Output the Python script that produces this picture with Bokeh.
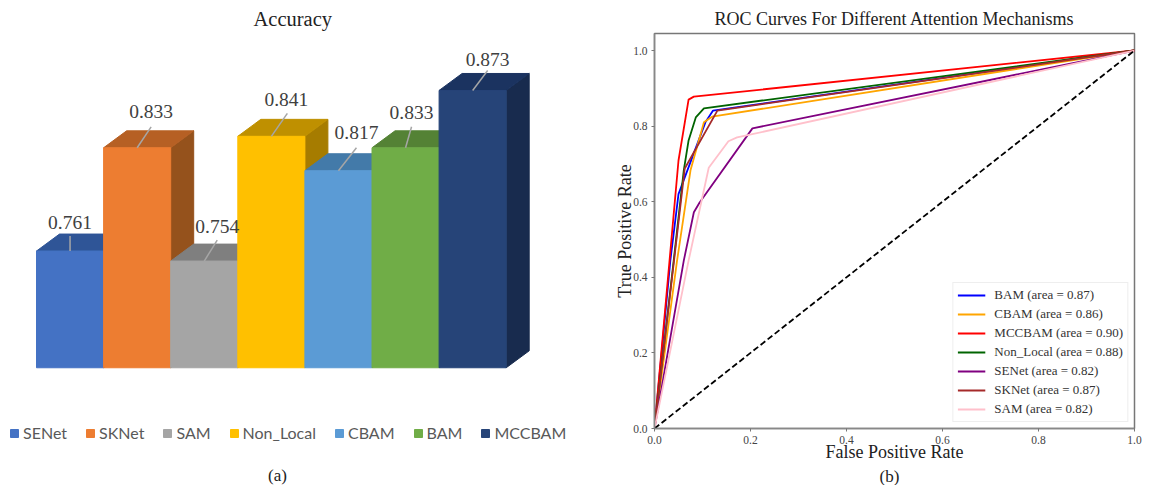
from bokeh.plotting import figure
from bokeh.layouts import row, column
from bokeh.embed import file_html
from bokeh.resources import INLINE
from bokeh.models import Range1d, Legend, LegendItem, Label, FixedTicker, NumeralTickFormatter, Title
from bokeh.core.properties import value

# ---------- data ----------
models = ["SENet", "SKNet", "SAM", "Non_Local", "CBAM", "BAM", "MCCBAM"]
accuracy = [0.761, 0.833, 0.754, 0.841, 0.817, 0.833, 0.873]

bam_x = [0, 0.033, 0.05, 0.106, 0.122, 1]
bam_y = [0, 0.444, 0.62, 0.81, 0.841, 1]
cbam_x = [0, 0.047, 0.075, 0.103, 0.12, 1]
cbam_y = [0, 0.444, 0.683, 0.81, 0.825, 1]
mcc_x = [0, 0.05, 0.071, 0.082, 1]
mcc_y = [0, 0.709, 0.87, 0.878, 1]
nl_x = [0, 0.04, 0.061, 0.071, 0.086, 0.103, 1]
nl_y = [0, 0.444, 0.683, 0.762, 0.823, 0.847, 1]
se_x = [0, 0.061, 0.082, 0.094, 0.204, 1]
se_y = [0, 0.444, 0.572, 0.598, 0.794, 1]
sk_x = [0, 0.063, 0.131, 1]
sk_y = [0, 0.688, 0.841, 1]
sam_x = [0, 0.071, 0.113, 0.154, 0.172, 1]
sam_y = [0, 0.444, 0.69, 0.76, 0.77, 1]
roc_names = ["BAM (area = 0.87)", "CBAM (area = 0.86)", "MCCBAM (area = 0.90)",
             "Non_Local (area = 0.88)", "SENet (area = 0.82)", "SKNet (area = 0.87)",
             "SAM (area = 0.82)"]

# ---------- styles ----------
front = ["#4472c4", "#ed7d31", "#a5a5a5", "#ffc000", "#5b9bd5", "#70ad47", "#264478"]
top = ["#2f5597", "#b66024", "#7f7f7f", "#bf9000", "#437aa9", "#548235", "#1b3360"]
side = ["#294a86", "#95521c", "#6e6e6e", "#a67c00", "#3a6a94", "#4a7230", "#182b4e"]
roc_colors = ["#0000ff", "#ffa500", "#ff0000", "#006400", "#800080", "#a52a2a", "#ffc0cb"]
SERIF = "Liberation Serif"
TXT = "#404040"

# left panel geometry: bar slot in px, px per accuracy unit
SLOT = 67.1
PX_PER_UNIT = 1437.0
W1, H1 = 598, 485
FRAME_TOP = 33
LEFT_PX = 36.0      # first bar's left edge from figure edge
V_AT_TOP = 0.761 + (250 - FRAME_TOP) / PX_PER_UNIT
V_AT_BOT = 0.761 - (H1 - 250) / PX_PER_UNIT
BASE = 0.761 - (367 - 250) / PX_PER_UNIT
DX = 23 / SLOT
DY = 17 / PX_PER_UNIT

p1 = figure(width=W1, height=H1, output_backend="svg", toolbar_location=None,
            x_range=Range1d(-LEFT_PX / SLOT, (W1 - LEFT_PX) / SLOT),
            y_range=Range1d(V_AT_BOT, V_AT_TOP),
            min_border_left=0, min_border_right=0, min_border_bottom=0, min_border_top=FRAME_TOP,
            title="Accuracy")
p1.title.text_font = SERIF
p1.title.text_font_size = "20.5px"
p1.title.text_font_style = "normal"
p1.title.text_color = "#222222"
p1.title.align = "left"
p1.title.offset = 253
p1.axis.visible = False
p1.grid.visible = False
p1.outline_line_color = None

# leader end offsets and label offsets from each front-top centre, px
lead_dx = [0, 14, 13, 16, 18, 6, 15]
lead_dy = [15, 21, 21, 23, 23, 21, 20]
lab_dx = [0, 14, 13, 15, 18, 6, 15]
lab_dy = [29, 36, 35, 37, 38, 35, 31]

items = []
for i, (m, v) in enumerate(zip(models, accuracy)):
    l, r = i, i + 1
    p1.patch([r, r + DX, r + DX, r], [BASE, BASE + DY, v + DY, v], fill_color=side[i], line_color=side[i])
    p1.patch([l, l + DX, r + DX, r], [v, v + DY, v + DY, v], fill_color=top[i], line_color=top[i])
    q = p1.quad(left=[l], right=[r], bottom=[BASE], top=[v], fill_color=front[i], line_color=front[i])
    items.append(LegendItem(label=m, renderers=[q]))

for i, v in enumerate(accuracy):
    c = i + 0.5
    p1.line([c, c + lead_dx[i] / SLOT], [v, v + lead_dy[i] / PX_PER_UNIT], line_color="#a6a6a6", line_width=1.5)
    p1.text([c + lab_dx[i] / SLOT], [v + lab_dy[i] / PX_PER_UNIT], text=[f"{v:.3f}"],
            text_font=value(SERIF), text_font_size="19.5px", text_color=TXT,
            text_align="center", text_baseline="middle")

leg1 = Legend(items=items, orientation="horizontal", location=(9, 43),
              glyph_width=10, glyph_height=10, spacing=18, label_standoff=4,
              label_text_font="Lato", label_text_font_size="16px", label_text_color="#595959",
              background_fill_alpha=0, border_line_color=None,
              margin=0, padding=0, label_height=14)
p1.add_layout(leg1)

p1.add_layout(Label(x=(277 - LEFT_PX) / SLOT, y=0.761 - (475 - 250) / PX_PER_UNIT, text="(a)",
                    text_font=SERIF, text_font_size="17px", text_color="#222222",
                    text_align="center", text_baseline="middle"))

# ---------- right panel ----------
p2 = figure(width=554, height=485, output_backend="svg", toolbar_location=None,
            x_range=Range1d(0, 1), y_range=Range1d(0, 1.045),
            min_border_left=56, min_border_right=18, min_border_bottom=57, min_border_top=FRAME_TOP,
            title="ROC Curves For Different Attention Mechanisms")
p2.title.text_font = SERIF
p2.title.text_font_size = "18px"
p2.title.text_font_style = "normal"
p2.title.text_color = "#222222"
p2.title.align = "center"
p2.grid.visible = False
p2.outline_line_color = "#777777"
p2.outline_line_width = 1.5
for ax, lab, st in ((p2.xaxis, "False Positive Rate", -5), (p2.yaxis, "True Positive Rate", -5)):
    ax.axis_label = lab
    ax.axis_label_text_font = SERIF
    ax.axis_label_text_font_size = "18px"
    ax.axis_label_text_font_style = "normal"
    ax.axis_label_text_color = "#222222"
    ax.axis_label_standoff = st
    ax.ticker = FixedTicker(ticks=[0, 0.2, 0.4, 0.6, 0.8, 1.0])
    ax.formatter = NumeralTickFormatter(format="0.0")
    ax.major_label_text_font = SERIF
    ax.major_label_text_font_size = "11.5px"
    ax.major_label_text_color = "#444444"
    ax.major_tick_in = 0
    ax.major_tick_out = 3
    ax.minor_tick_line_color = None
    ax.axis_line_color = "#888888"
    ax.axis_line_width = 1.5
    ax.major_tick_line_color = "#777777"
    ax.major_label_standoff = 4

curves = [(bam_x, bam_y), (cbam_x, cbam_y), (mcc_x, mcc_y), (nl_x, nl_y), (se_x, se_y), (sk_x, sk_y), (sam_x, sam_y)]
rends = {}
for k in range(7):
    rends[k] = p2.line(curves[k][0], curves[k][1], line_color=roc_colors[k], line_width=1.8,
                       line_join="round")
p2.line([0, 1], [0, 1], line_color="black", line_width=1.8, line_dash="6 3")

leg2 = Legend(items=[LegendItem(label=n, renderers=[rends[i]]) for i, n in enumerate(roc_names)],
              location="bottom_right", glyph_width=28, glyph_height=12, spacing=3, label_standoff=9,
              label_text_font=SERIF, label_text_font_size="13px", label_text_color="#333333",
              background_fill_alpha=0.85, border_line_color="#dddddd",
              margin=6, padding=4, label_height=13)
p2.add_layout(leg2)

p2.add_layout(Title(text="(b)", align="left", offset=225, standoff=0, text_font=SERIF,
                    text_font_size="17px", text_font_style="normal", text_color="#222222"), "below")

open("out.html", "w").write(file_html(row(column(p1), column(p2), spacing=0), INLINE))
